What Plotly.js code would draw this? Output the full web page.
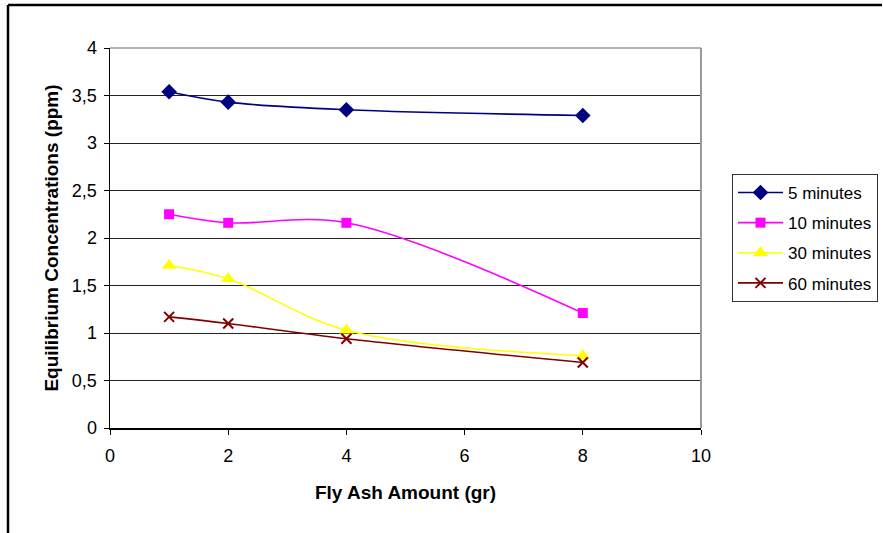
<!DOCTYPE html>
<html>
<head>
<meta charset="utf-8">
<script src="https://cdn.plot.ly/plotly-3.0.1.min.js"></script>
<style>html,body{margin:0;padding:0;background:#fff;}#chart{width:883px;height:533px;}</style>
</head>
<body>
<div id="chart"></div>
<script>
var flyAsh = [1, 2, 4, 8];
var min5 = [3.54, 3.43, 3.35, 3.29];
var min10 = [2.25, 2.16, 2.16, 1.21];
var min30 = [1.71, 1.57, 1.03, 0.76];
var min60 = [1.17, 1.10, 0.94, 0.69];
var seriesNames = ['5 minutes', '10 minutes', '30 minutes', '60 minutes'];
var xTicks = [0, 2, 4, 6, 8, 10];
var yTicks = [0, 0.5, 1, 1.5, 2, 2.5, 3, 3.5, 4];

function mk(y, name, color, symbol, size, mline) {
  return {
    x: flyAsh, y: y, name: name, type: 'scatter', mode: 'lines+markers',
    legendgroup: name,
    line: {color: color, width: 1.6, shape: 'spline', smoothing: 1},
    marker: {color: color, symbol: symbol, size: size, line: mline || {width: 0}}
  };
}
var traces = [
  mk(min5, seriesNames[0], '#000080', 'diamond', 12),
  mk(min10, seriesNames[1], '#FF00FF', 'square', 10),
  mk(min30, seriesNames[2], '#FFFF00', 'triangle-up', 13),
  mk(min60, seriesNames[3], '#800000', 'x-thin', 10, {width: 2, color: '#800000'})
];

var layout = {
  width: 883, height: 533,
  margin: {l: 110, r: 182, t: 48, b: 105},
  paper_bgcolor: '#fff', plot_bgcolor: '#fff',
  separators: ', ',
  font: {family: 'Liberation Sans, Arial, sans-serif', color: '#000', size: 16},
  showlegend: true,
  legend: {
    xref: 'container', yref: 'container',
    x: 0.829, y: 0.6735, xanchor: 'left', yanchor: 'top',
    bordercolor: '#333', borderwidth: 1, bgcolor: '#fff',
    font: {size: 17, family: 'Liberation Sans, Arial, sans-serif'},
    itemwidth: 45,
    tracegroupgap: 5
  },
  xaxis: {
    range: [0, 10], tickvals: xTicks, ticktext: xTicks.map(String),
    showgrid: false, zeroline: false,
    showline: true, linecolor: '#000', linewidth: 1.5,
    ticks: 'outside', ticklen: 5, tickcolor: '#000', tickwidth: 1,
    ticklabelstandoff: 6,
    tickfont: {size: 18},
    title: {text: 'Fly Ash Amount (gr)', font: {size: 19, weight: 'bold'}, standoff: 20}
  },
  yaxis: {
    range: [0, 4], tickvals: yTicks,
    showgrid: true, gridcolor: '#222', gridwidth: 1,
    zeroline: false,
    showline: true, linecolor: '#000', linewidth: 1.5,
    ticks: 'outside', ticklen: 5, tickcolor: '#000', tickwidth: 1,
    ticklabelstandoff: 3,
    tickfont: {size: 18},
    title: {text: 'Equilibrium Concentrations (ppm)', font: {size: 19, weight: 'bold'}, standoff: 8}
  },
  shapes: [
    {type: 'line', xref: 'paper', yref: 'paper', x0: 0, x1: 1, y0: 1, y1: 1, line: {color: '#999', width: 1.5}, layer: 'above'},
    {type: 'line', xref: 'paper', yref: 'paper', x0: 1, x1: 1, y0: 0, y1: 1, line: {color: '#999', width: 2}, layer: 'above'},
    {type: 'line', xref: 'paper', yref: 'paper', x0: -0.1726, x1: 1.3063, y0: 1.1132, y1: 1.1132, line: {color: '#000', width: 2.5}},
    {type: 'line', xref: 'paper', yref: 'paper', x0: -0.1726, x1: -0.1726, y0: 1.1132, y1: -0.3, line: {color: '#000', width: 2.5}}
  ]
};

Plotly.newPlot('chart', traces, layout, {displayModeBar: false, staticPlot: true});
</script>
</body>
</html>
